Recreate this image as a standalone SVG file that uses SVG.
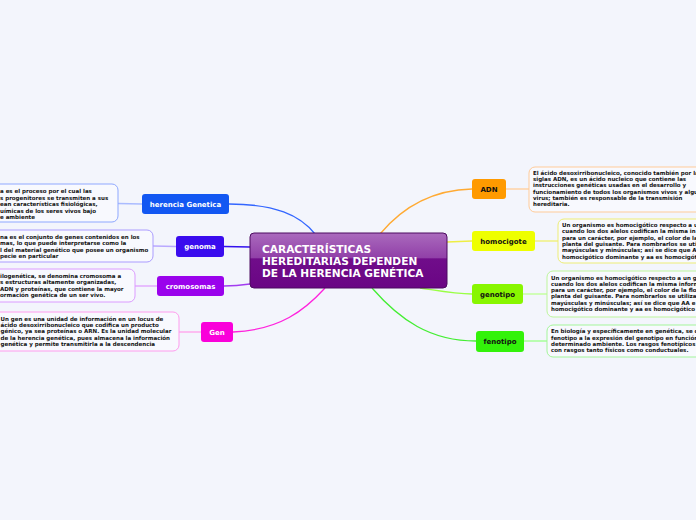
<svg xmlns="http://www.w3.org/2000/svg" width="696" height="520" viewBox="0 0 696 520">
<defs>
<linearGradient id="mainGrad" x1="0" y1="0" x2="0" y2="1">
<stop offset="0" stop-color="#aa6abd"/>
<stop offset="0.45" stop-color="#9140a8"/>
<stop offset="0.47" stop-color="#700d8a"/>
<stop offset="1" stop-color="#6a0584"/>
</linearGradient>
</defs>
<style>
.bg{fill:#f3f5fc}
.node{stroke:none}
.ntw{font-family:"DejaVu Sans",Verdana,sans-serif;font-weight:bold;font-size:7px;fill:#ffffff;text-anchor:middle}
.ntb{font-family:"DejaVu Sans",Verdana,sans-serif;font-weight:bold;font-size:7px;fill:#111111;text-anchor:middle}
.tb{fill:#f8f9fe;stroke-width:1}
.tt{font-family:"DejaVu Sans",Verdana,sans-serif;font-weight:bold;font-size:5.5px;fill:#111111}
.main{font-family:"DejaVu Sans",Verdana,sans-serif;font-weight:bold;font-size:10.6px;fill:#ffffff}
.c{fill:none;stroke-width:1.3}
.s{fill:none;stroke-width:1.5}
</style>
<rect class="bg" x="0" y="0" width="696" height="520"/>

<g id="connectors">
<path class="c" stroke="#3366ff" d="M229,204 C275,204 300,215 315,234"/>
<path class="c" stroke="#3311ee" d="M224,246.5 L250,247"/>
<path class="c" stroke="#a23cf0" d="M224,286 C235,286 243,285 250,284"/>
<path class="c" stroke="#ff22dd" d="M233,332 C280,330 305,310 325,288"/>
<path class="c" stroke="#ffaa33" d="M380,234 C400,210 430,190 472,189"/>
<path class="c" stroke="#eeee44" d="M447,242 L472,241"/>
<path class="c" stroke="#99ff44" d="M420,288 C440,291 455,294 472,294"/>
<path class="c" stroke="#44ee33" d="M372,288 C400,320 430,341 476,341"/>
<path class="s" stroke="#aabbff" d="M118,203.5 L142,204"/>
<path class="s" stroke="#b9a9ff" d="M153,246 L176,246.5"/>
<path class="s" stroke="#e3aaff" d="M135,286 L157,286"/>
<path class="s" stroke="#ffaaee" d="M179,332 L201,332"/>
<path class="s" stroke="#ffd2a6" d="M506,189 L529,189"/>
<path class="s" stroke="#f0f080" d="M535,241 L558,241"/>
<path class="s" stroke="#c4ffa0" d="M523,294 L547,294"/>
<path class="s" stroke="#a6ff99" d="M524,341 L547,341"/>
</g>

<g id="main">
<rect x="250" y="233" width="197" height="55" rx="4" fill="url(#mainGrad)" stroke="#4d0b60" stroke-width="1"/>
<text class="main" x="262" y="252.5">CARACTERÍSTICAS</text>
<text class="main" x="262" y="264.5">HEREDITARIAS DEPENDEN</text>
<text class="main" x="262" y="276.5">DE LA HERENCIA GENÉTICA</text>
</g>

<g id="herencia">
<rect class="node" x="142" y="194" width="87" height="20" rx="3" fill="#1257f2"/>
<text class="ntw" x="185.5" y="206.5">herencia Genetica</text>
</g>
<g id="herencia-text">
<rect class="tb" x="-10" y="184" width="128" height="38" rx="6" stroke="#8fa8ff"/>
<text class="tt" x="0" y="193">a es el proceso por el cual las</text>
<text class="tt" x="0" y="199.5">s progenitores se transmiten a sus</text>
<text class="tt" x="0" y="206">ean características fisiológicas,</text>
<text class="tt" x="0" y="212.5">uímicas de los seres vivos bajo</text>
<text class="tt" x="0" y="219">e ambiente</text>
</g>

<g id="genoma">
<rect class="node" x="176" y="236" width="48" height="21" rx="3" fill="#3a0cee"/>
<text class="ntw" x="200" y="249">genoma</text>
</g>
<g id="genoma-text">
<rect class="tb" x="-10" y="230" width="163" height="32" rx="6" stroke="#ab9cff"/>
<text class="tt" x="0" y="239">na es el conjunto de genes contenidos en los</text>
<text class="tt" x="0" y="245.3">mas,  lo que puede interpretarse como la</text>
<text class="tt" x="0" y="251.7">l del material genético que posee un organismo</text>
<text class="tt" x="0" y="258">pecie en particular</text>
</g>

<g id="cromosomas">
<rect class="node" x="157" y="276" width="67" height="20" rx="3" fill="#9a02ec"/>
<text class="ntw" x="190.5" y="288.5">cromosomas</text>
</g>
<g id="cromosomas-text">
<rect class="tb" x="-10" y="269" width="145" height="33" rx="6" stroke="#dc9cff"/>
<text class="tt" x="0" y="277.5">ilogenética, se denomina cromosoma a</text>
<text class="tt" x="0" y="284">s estructuras altamente organizadas,</text>
<text class="tt" x="0" y="290.5">ADN y proteínas, que contiene la mayor</text>
<text class="tt" x="0" y="297">ormación genética de un ser vivo.</text>
</g>

<g id="gen">
<rect class="node" x="201" y="322" width="32" height="20" rx="3" fill="#fa00da"/>
<text class="ntw" x="217" y="334.5">Gen</text>
</g>
<g id="gen-text">
<rect class="tb" x="-10" y="312" width="189" height="39" rx="6" stroke="#ff9cee"/>
<text class="tt" x="0.5" y="320.5">Un gen es una unidad de información en un locus de</text>
<text class="tt" x="0.5" y="327">ácido desoxirribonucleico que codifica un producto</text>
<text class="tt" x="0.5" y="333.4">génico, ya sea proteínas o ARN. Es la unidad molecular</text>
<text class="tt" x="0.5" y="339.8">de la herencia genética,  pues almacena la información</text>
<text class="tt" x="0.5" y="346.2">genética y permite transmitirla a la descendencia</text>
</g>

<g id="adn">
<rect class="node" x="472" y="179" width="34" height="20" rx="3" fill="#ff9a00"/>
<text class="ntb" x="489" y="191.5">ADN</text>
</g>
<g id="adn-text">
<rect class="tb" x="529" y="167" width="181" height="45" rx="6" stroke="#ffcb99"/>
<text class="tt" x="533" y="175">El ácido desoxirribonucleico, conocido también por la</text>
<text class="tt" x="533" y="181.2">siglas ADN, es un ácido nucleico que contiene las</text>
<text class="tt" x="533" y="187.4">instrucciones genéticas usadas en el desarrollo y</text>
<text class="tt" x="533" y="193.6">funcionamiento de todos los organismos vivos y algu</text>
<text class="tt" x="533" y="199.8">virus; también es responsable de la transmisión</text>
<text class="tt" x="533" y="206">hereditaria.</text>
</g>

<g id="homocigote">
<rect class="node" x="472" y="231" width="63" height="20" rx="3" fill="#eeff00"/>
<text class="ntb" x="503.5" y="243.5">homocigote</text>
</g>
<g id="homocigote-text">
<rect class="tb" x="558" y="219" width="152" height="44" rx="6" stroke="#eded77"/>
<text class="tt" x="562" y="227">Un organismo es homocigótico respecto a u</text>
<text class="tt" x="562" y="233.3">cuando los dos alelos codifican la misma in</text>
<text class="tt" x="562" y="239.6">para un carácter, por ejemplo, el color de la</text>
<text class="tt" x="562" y="245.9">planta del guisante. Para nombrarlos se uti</text>
<text class="tt" x="562" y="252.2">mayúsculas y minúsculas; así se dice que A</text>
<text class="tt" x="562" y="258.5">homocigótico dominante y aa es homocigót</text>
</g>

<g id="genotipo">
<rect class="node" x="472" y="284" width="51" height="20" rx="3" fill="#88f600"/>
<text class="ntb" x="497.5" y="296.5">genotipo</text>
</g>
<g id="genotipo-text">
<rect class="tb" x="547" y="271" width="163" height="46" rx="6" stroke="#bdf59c"/>
<text class="tt" x="551" y="279.5">Un organismo es homocigótico respecto a un g</text>
<text class="tt" x="551" y="285.8">cuando los dos alelos codifican la misma inform</text>
<text class="tt" x="551" y="292.1">para un carácter, por ejemplo, el color de la flo</text>
<text class="tt" x="551" y="298.4">planta del guisante. Para nombrarlos se utiliza</text>
<text class="tt" x="551" y="304.7">mayúsculas y minúsculas; así se dice que AA e</text>
<text class="tt" x="551" y="311">homocigótico dominante y aa es homocigótico</text>
</g>

<g id="fenotipo">
<rect class="node" x="476" y="331" width="48" height="21" rx="3" fill="#33f20a"/>
<text class="ntb" x="500" y="344">fenotipo</text>
</g>
<g id="fenotipo-text">
<rect class="tb" x="547" y="325" width="163" height="32" rx="6" stroke="#a3f59a"/>
<text class="tt" x="551" y="333.3">En biología y específicamente en genética, se c</text>
<text class="tt" x="551" y="339.6">fenotipo a la expresión del genotipo en función</text>
<text class="tt" x="551" y="345.9">determinado ambiente. Los rasgos fenotípicos</text>
<text class="tt" x="551" y="352.2">con rasgos tanto físicos como conductuales.</text>
</g>
</svg>
